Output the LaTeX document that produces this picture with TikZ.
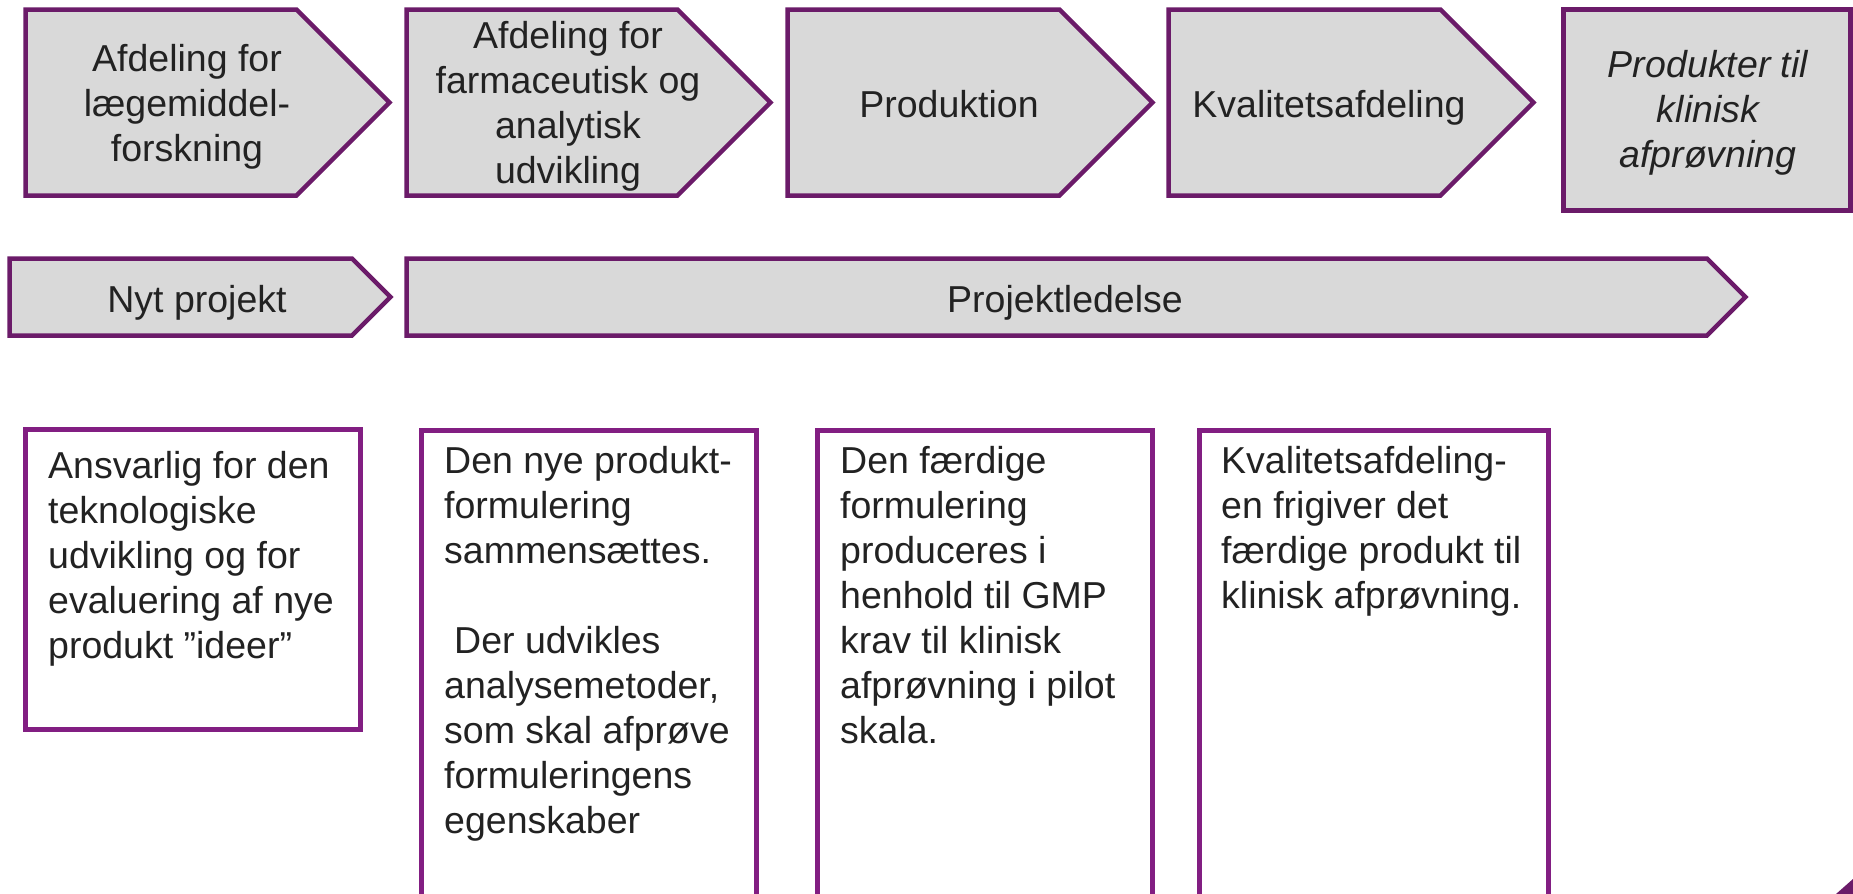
\documentclass[tikz,border=0pt]{standalone}
\usepackage{fontspec}
\setmainfont{Liberation Sans}
\definecolor{chevpurple}{HTML}{6B1B69}
\definecolor{boxpurple}{HTML}{821E82}
\definecolor{chevgrey}{HTML}{D9D9D9}
\definecolor{textdark}{HTML}{222222}
\begin{document}
\begin{tikzpicture}[x=1pt,y=-1pt,
  chev/.style={draw=chevpurple, fill=chevgrey, line width=4.5pt, line join=miter},
  panel/.style={draw=boxpurple, fill=white, line width=4.5pt},
  txt/.style={font=\fontsize{37.5}{45}\selectfont, text=textdark, inner sep=0pt},
  ctr/.style={txt, align=center},
  lft/.style={txt, align=left, anchor=north west}]
\useasboundingbox (0,0) rectangle (1853,894);
\fill[white] (0,0) rectangle (1853,894);
\begin{scope}
\clip (0,0) rectangle (1853,894);
% top row chevrons
\draw[chev] (25.5,9.5) -- (296.5,9.5) -- (389.5,102.5) -- (296.5,195.5) -- (25.5,195.5) -- cycle;
\draw[chev] (406.5,9.5) -- (677.5,9.5) -- (770.5,102.5) -- (677.5,195.5) -- (406.5,195.5) -- cycle;
\draw[chev] (787.5,9.5) -- (1059.5,9.5) -- (1152.5,102.5) -- (1059.5,195.5) -- (787.5,195.5) -- cycle;
\draw[chev] (1168.5,9.5) -- (1440.5,9.5) -- (1533.5,102.5) -- (1440.5,195.5) -- (1168.5,195.5) -- cycle;
\draw[chev] (1563.5,9.5) rectangle (1850.5,210.5);
% second row
\draw[chev] (9.5,258.5) -- (352,258.5) -- (390.5,297) -- (352,335.5) -- (9.5,335.5) -- cycle;
\draw[chev] (406.5,258.5) -- (1707,258.5) -- (1745.5,297) -- (1707,335.5) -- (406.5,335.5) -- cycle;
% text panels
\draw[panel] (25.5,429.5) rectangle (360.5,729.5);
\draw[panel] (421.5,430.5) rectangle (756.5,910);
\draw[panel] (817.5,430.5) rectangle (1152.5,910);
\draw[panel] (1199.5,430.5) rectangle (1548.5,910);
% corner fragment
\fill[chevpurple] (1836,894) -- (1853,879) -- (1853,894) -- cycle;
\end{scope}
% labels
\node[ctr] (c1) at (187,107) {Afdeling for\\lægemiddel-\\forskning};
\node[ctr] (c2) at (568,106.5) {Afdeling for\\farmaceutisk og\\analytisk\\udvikling};
\node[txt, anchor=base] (c3) at (949,117) {Produktion};
\node[txt, anchor=base] (c4) at (1329,117) {Kvalitetsafdeling};
\node[ctr, font=\fontsize{37.5}{45}\selectfont\itshape] (c5) at (1708,113) {Produkter til\\klinisk\\afprøvning};
\node[txt, anchor=base] (r1) at (197,312) {Nyt projekt};
\node[txt, anchor=base] (r2) at (1065,312) {Projektledelse};
\node[lft] (b1) at (48,451) {Ansvarlig for den\\teknologiske\\udvikling og for\\evaluering af nye\\produkt ”ideer”};
\node[lft] (b2) at (444,446) {Den nye produkt-\\formulering\\sammensættes.\\[45pt]\hspace*{10pt}Der udvikles\\analysemetoder,\\som skal afprøve\\formuleringens\\egenskaber};
\node[lft] (b3) at (840,446) {Den færdige\\formulering\\produceres i\\henhold til GMP\\krav til klinisk\\afprøvning i pilot\\skala.};
\node[lft] (b4) at (1221,446) {Kvalitetsafdeling-\\en frigiver det\\færdige produkt til\\klinisk afprøvning.};
\end{tikzpicture}
\end{document}
